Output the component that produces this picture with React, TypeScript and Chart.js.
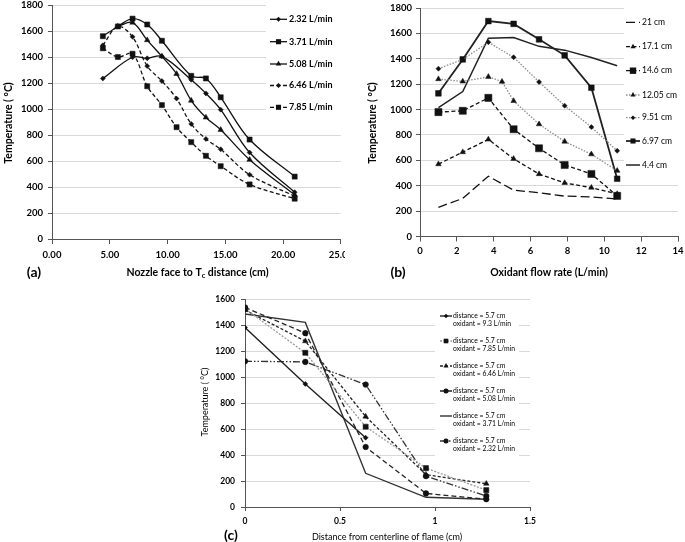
import React, { useEffect, useRef } from 'react';
import { Chart, registerables } from 'chart.js';
Chart.register(...registerables);

// ---------- Panel (a): temperature vs nozzle distance ----------
const A_X = [4.4, 5.7, 6.97, 8.24, 9.51, 10.78, 12.05, 13.32, 14.6, 17.1, 21];
const A_232 = [1235, null, 1398, 1390, 1405, null, 1225, 1120, 995, 665, 360];
const A_371 = [1560, 1635, 1695, 1650, 1525, null, 1255, 1235, 1090, 765, 480];
const A_508 = [null, 1635, 1665, 1530, 1405, 1270, 1065, 935, 840, 610, 340];
const A_646 = [1490, 1635, 1555, 1330, 1215, 1080, 885, 770, 690, 495, 330];
const A_785 = [1467, 1400, 1425, 1175, 1030, 860, 745, 640, 560, 420, 310];
const A_LABELS = ['2.32 L/min', '3.71 L/min', '5.08 L/min', '6.46 L/min', '7.85 L/min'];

// ---------- Panel (b): temperature vs oxidant flow ----------
const B_X = [1, 2.32, 3.71, 5.08, 6.46, 7.85, 9.3, 10.7];
const B_X_1205 = [1, 2.32, 3.71, 4.45, 5.08, 6.46, 7.85, 9.3, 10.7];
const B_21 = [230, 300, 475, 365, 345, 318, 312, 295];
const B_171 = [570, 665, 765, 612, 492, 422, 385, 335];
const B_146 = [980, 990, 1092, 845, 695, 563, 493, 320];
const B_1205 = [1240, 1222, 1258, 1220, 1068, 885, 748, 648, 518];
const B_951 = [1322, 1395, 1530, 1412, 1218, 1030, 862, 675];
const B_697 = [1128, 1395, 1697, 1675, 1553, 1427, 1172, 455];
const B_44 = [1015, 1142, 1562, 1568, 1498, 1468, 1410, 1345];
const B_LABELS = ['21 cm', '17.1 cm', '14.6 cm', '12.05 cm', '9.51 cm', '6.97 cm', '4.4 cm'];

// ---------- Panel (c): radial profile ----------
const C_X = [0, 0.3175, 0.635, 0.9525, 1.27];
const C_93 = [1385, 950, 535];
const C_785 = [1530, 1190, 620, 300, 130];
const C_646 = [1520, 1280, 698, 250, 180];
const C_508 = [1540, 1342, 463, 105, 60];
const C_371 = [1490, 1425, 260, 75, 60];
const C_232 = [1125, 1120, 945, 238, 85];
const C_OXIDANT = ['9.3', '7.85', '6.46', '5.08', '3.71', '2.32'];
const C_DISTANCE = '5.7';

const FAMILY = 'Lato';
const GRID = '#d9d9d9';
const AXIS = '#555';
const INK = '#111';

const pts = (xs: number[], ys: (number | null)[]) => ys.map((y, i) => ({ x: xs[i], y }));

function drawMarker(ctx: CanvasRenderingContext2D, style: string, x: number, y: number, r: number, color: string) {
  ctx.save();
  ctx.setLineDash([]);
  ctx.fillStyle = color;
  ctx.beginPath();
  if (style === 'circle') ctx.arc(x, y, r, 0, Math.PI * 2);
  else if (style === 'rect') { const s = r * Math.SQRT1_2; ctx.rect(x - s, y - s, 2 * s, 2 * s); }
  else if (style === 'rectRot') { ctx.moveTo(x - r, y); ctx.lineTo(x, y - r); ctx.lineTo(x + r, y); ctx.lineTo(x, y + r); ctx.closePath(); }
  else if (style === 'triangle') { ctx.moveTo(x, y - r); ctx.lineTo(x + 0.866 * r, y + 0.5 * r); ctx.lineTo(x - 0.866 * r, y + 0.5 * r); ctx.closePath(); }
  ctx.fill();
  ctx.restore();
}

type Seg = { t: string; sub?: boolean };
type TextSpec = { segs: Seg[]; x: number; y: number; font: string; subFont?: string; rotate?: boolean };

function drawText(ctx: CanvasRenderingContext2D, t: TextSpec) {
  ctx.save();
  ctx.translate(t.x, t.y);
  if (t.rotate) ctx.rotate(-Math.PI / 2);
  ctx.fillStyle = '#000';
  ctx.textBaseline = 'middle';
  ctx.textAlign = 'left';
  let total = 0;
  const widths = t.segs.map((s) => {
    ctx.font = s.sub ? (t.subFont || t.font) : t.font;
    const w = ctx.measureText(s.t).width;
    total += w;
    return w;
  });
  let x = -total / 2;
  t.segs.forEach((s, i) => {
    ctx.font = s.sub ? (t.subFont || t.font) : t.font;
    ctx.fillText(s.t, x, s.sub ? 3 : 0);
    x += widths[i];
  });
  ctx.restore();
}

type LegendSpec = { box: [number, number, number, number]; sx: number; sw: number; tx: number; rows: number[]; font: string; lineGap: number; markerScale: number };

function overlay(legend: LegendSpec, texts: TextSpec[]) {
  return {
    id: 'overlay',
    afterDraw(chart: any) {
      const ctx: CanvasRenderingContext2D = chart.ctx;
      ctx.save();
      ctx.fillStyle = '#fff';
      ctx.fillRect(...legend.box);
      chart.data.datasets.forEach((ds: any, i: number) => {
        const y = legend.rows[i];
        ctx.save();
        ctx.strokeStyle = ds.borderColor;
        ctx.lineWidth = ds.borderWidth;
        ctx.setLineDash(ds.borderDash || []);
        ctx.beginPath();
        ctx.moveTo(legend.sx, y);
        ctx.lineTo(legend.sx + legend.sw, y);
        ctx.stroke();
        ctx.restore();
        if (ds.pointRadius > 0) drawMarker(ctx, ds.pointStyle, legend.sx + legend.sw / 2, y, ds.pointRadius * legend.markerScale, ds.pointBackgroundColor);
        ctx.fillStyle = '#000';
        ctx.font = legend.font;
        ctx.textAlign = 'left';
        ctx.textBaseline = 'middle';
        String(ds.label).split('\n').forEach((ln, k) => ctx.fillText(ln, legend.tx, y + k * legend.lineGap));
      });
      texts.forEach((t) => drawText(ctx, t));
      ctx.restore();
    },
  };
}

type AxisOpt = {
  min: number; max: number; step: number; fmt: (v: number) => string; size: number; font: any;
  tickLength: number; padding: number;
};

function makeScales(x: AxisOpt, y: AxisOpt) {
  return {
    x: {
      type: 'linear', min: x.min, max: x.max,
      ticks: { stepSize: x.step, callback: (v: any) => x.fmt(Number(v)), font: x.font, color: '#000', padding: x.padding, maxRotation: 0, autoSkip: false },
      grid: { drawOnChartArea: false, drawTicks: true, tickLength: x.tickLength, tickColor: AXIS },
      border: { color: AXIS, width: 1 },
      afterFit: (s: any) => { s.height = x.size; s.paddingLeft = 0; s.paddingRight = 0; },
    },
    y: {
      type: 'linear', min: y.min, max: y.max,
      ticks: { stepSize: y.step, callback: (v: any) => y.fmt(Number(v)), font: y.font, color: '#000', padding: y.padding },
      grid: { color: GRID, lineWidth: 1, drawTicks: true, tickLength: y.tickLength, tickColor: AXIS },
      border: { color: AXIS, width: 1 },
      afterFit: (s: any) => { s.width = y.size; s.paddingTop = 0; s.paddingBottom = 0; },
    },
  };
}

function ds(label: string, data: any[], o: any) {
  return {
    label, data,
    borderColor: o.color || INK, borderWidth: o.width || 1.3, borderDash: o.dash || [],
    pointStyle: o.marker || 'circle', pointRadius: o.r || 0,
    pointBackgroundColor: o.pcolor || INK, pointBorderColor: o.pcolor || INK, pointBorderWidth: 0.5,
    pointHoverRadius: 0, tension: o.tension || 0, spanGaps: true, fill: false,
  };
}

function configA() {
  const tickFont = { family: FAMILY, size: 9.5, weight: 'bold' };
  const datasets = [
    ds(A_LABELS[0], pts(A_X, A_232), { marker: 'rectRot', r: 2.5, tension: 0.35 }),
    ds(A_LABELS[1], pts(A_X, A_371), { marker: 'rect', r: 3.6, tension: 0.35 }),
    ds(A_LABELS[2], pts(A_X, A_508), { marker: 'triangle', r: 3.2, tension: 0.35 }),
    ds(A_LABELS[3], pts(A_X, A_646), { marker: 'rectRot', r: 2.5, dash: [4, 2.5], tension: 0.35 }),
    ds(A_LABELS[4], pts(A_X, A_785), { marker: 'rect', r: 3.6, dash: [4, 2.5], tension: 0.35 }),
  ];
  const legend: LegendSpec = { box: [266, 0, 79, 118], sx: 270, sw: 17, tx: 289, rows: [19.3, 41.7, 64, 85.5, 107.3], font: `bold 9px ${FAMILY}`, lineGap: 0, markerScale: 1 };
  const texts: TextSpec[] = [
    { segs: [{ t: 'Temperature ( °C)' }], x: 9, y: 123, font: `bold 10.5px ${FAMILY}`, rotate: true },
    { segs: [{ t: 'Nozzle face to T' }, { t: 'c', sub: true }, { t: ' distance (cm)' }], x: 197.5, y: 273, font: `bold 10.5px ${FAMILY}`, subFont: `bold 7.5px ${FAMILY}` },
    { segs: [{ t: '(a)' }], x: 34, y: 272, font: `bold 14px ${FAMILY}` },
  ];
  return {
    type: 'line',
    data: { datasets },
    options: {
      animation: false, responsive: false, events: [],
      layout: { padding: { left: 0, top: 5, right: 2, bottom: 0 } },
      plugins: { legend: { display: false }, tooltip: { enabled: false } },
      scales: makeScales(
        { min: 0, max: 25, step: 5, fmt: (v) => v.toFixed(2), size: 46, font: tickFont, tickLength: 5, padding: 5 },
        { min: 0, max: 1800, step: 200, fmt: (v) => String(v), size: 52, font: tickFont, tickLength: 4, padding: 5 },
      ),
    },
    plugins: [overlay(legend, texts)],
  };
}

function configB() {
  const tickFont = { family: FAMILY, size: 9.5, weight: 'bold' };
  const GRAY = '#8c8c8c';
  const datasets = [
    ds(B_LABELS[0], pts(B_X, B_21), { dash: [9, 4] }),
    ds(B_LABELS[1], pts(B_X, B_171), { marker: 'triangle', r: 3.2, dash: [4, 2.5] }),
    ds(B_LABELS[2], pts(B_X, B_146), { marker: 'rect', r: 5, dash: [4, 2.5] }),
    ds(B_LABELS[3], pts(B_X_1205, B_1205), { marker: 'triangle', r: 3.2, dash: [1.5, 1.5], color: GRAY }),
    ds(B_LABELS[4], pts(B_X, B_951), { marker: 'rectRot', r: 2.5, dash: [1.5, 1.5], color: GRAY }),
    ds(B_LABELS[5], pts(B_X, B_697), { marker: 'rect', r: 4, width: 1.8, color: '#222' }),
    ds(B_LABELS[6], pts(B_X, B_44), { width: 1.5, color: '#222' }),
  ];
  const legend: LegendSpec = { box: [279, 4, 61, 175], sx: 281, sw: 14, tx: 297, rows: [22.3, 46.7, 70.7, 95, 117.7, 141, 165], font: `8.5px ${FAMILY}`, lineGap: 0, markerScale: 0.9 };
  const texts: TextSpec[] = [
    { segs: [{ t: 'Temperature ( °C)' }], x: 28, y: 123, font: `bold 10.5px ${FAMILY}`, rotate: true },
    { segs: [{ t: 'Oxidant flow rate (L/min)' }], x: 204, y: 273, font: `bold 10.5px ${FAMILY}` },
    { segs: [{ t: '(b)' }], x: 53, y: 272, font: `bold 14px ${FAMILY}` },
  ];
  return {
    type: 'line',
    data: { datasets },
    options: {
      animation: false, responsive: false, events: [],
      layout: { padding: { left: 0, top: 8, right: 7, bottom: 0 } },
      plugins: { legend: { display: false }, tooltip: { enabled: false } },
      scales: makeScales(
        { min: 0, max: 14, step: 2, fmt: (v) => String(v), size: 48.5, font: tickFont, tickLength: 5, padding: 4 },
        { min: 0, max: 1800, step: 200, fmt: (v) => String(v), size: 75, font: tickFont, tickLength: 4, padding: 4 },
      ),
    },
    plugins: [overlay(legend, texts)],
  };
}

function configC() {
  const tickFont = { family: FAMILY, size: 8.5, weight: 'bold' };
  const lab = (i: number) => `distance = ${C_DISTANCE} cm\noxidant = ${C_OXIDANT[i]} L/min`;
  const datasets = [
    ds(lab(0), pts(C_X, C_93), { marker: 'rectRot', r: 2.5, width: 1.4, color: '#222' }),
    ds(lab(1), pts(C_X, C_785), { marker: 'rect', r: 3.6, dash: [2, 1.5], color: '#9a9a9a' }),
    ds(lab(2), pts(C_X, C_646), { marker: 'triangle', r: 3.2, dash: [3, 2], color: '#222' }),
    ds(lab(3), pts(C_X, C_508), { marker: 'circle', r: 2.8, dash: [5, 3], color: '#222' }),
    ds(lab(4), pts(C_X, C_371), { width: 1.4, color: '#333' }),
    ds(lab(5), pts(C_X, C_232), { marker: 'circle', r: 2.8, dash: [7, 2, 1.5, 2, 1.5, 2], color: '#333' }),
  ];
  const legend: LegendSpec = { box: [255, 23, 84, 152], sx: 260, sw: 12, tx: 273, rows: [31, 56, 81, 106, 131, 156], font: `6.8px ${FAMILY}`, lineGap: 8.2, markerScale: 0.9 };
  const texts: TextSpec[] = [
    { segs: [{ t: 'Temperature ( °C)' }], x: 25, y: 117, font: `9px ${FAMILY}`, rotate: true },
    { segs: [{ t: 'Distance from centerline of flame (cm)' }], x: 207, y: 252, font: `9px ${FAMILY}` },
    { segs: [{ t: '(c)' }], x: 51, y: 250, font: `bold 14px ${FAMILY}` },
  ];
  return {
    type: 'line',
    data: { datasets },
    options: {
      animation: false, responsive: false, events: [],
      layout: { padding: { left: 0, top: 14.7, right: 50, bottom: 0 } },
      plugins: { legend: { display: false }, tooltip: { enabled: false } },
      scales: makeScales(
        { min: 0, max: 1.5, step: 0.5, fmt: (v) => String(v), size: 35, font: tickFont, tickLength: 4, padding: 5 },
        { min: 0, max: 1600, step: 200, fmt: (v) => String(v), size: 65, font: tickFont, tickLength: 4, padding: 6 },
      ),
    },
    plugins: [overlay(legend, texts)],
  };
}

function Panel({ left, top, width, height, make }: { left: number; top: number; width: number; height: number; make: () => any }) {
  const ref = useRef<HTMLCanvasElement>(null);
  useEffect(() => {
    if (!ref.current) return;
    const chart = new Chart(ref.current, make());
    return () => chart.destroy();
  }, [make]);
  return (
    <canvas ref={ref} width={width} height={height}
      style={{ position: 'absolute', left, top, width, height }} />
  );
}

export default function App() {
  return (
    <div style={{ position: 'fixed', left: 0, top: 0, width: 685, height: 542, background: '#fff', overflow: 'hidden' }}>
      <Panel left={0} top={0} width={345} height={285} make={configA} />
      <Panel left={345} top={0} width={340} height={285} make={configB} />
      <Panel left={180} top={285} width={400} height={257} make={configC} />
    </div>
  );
}
